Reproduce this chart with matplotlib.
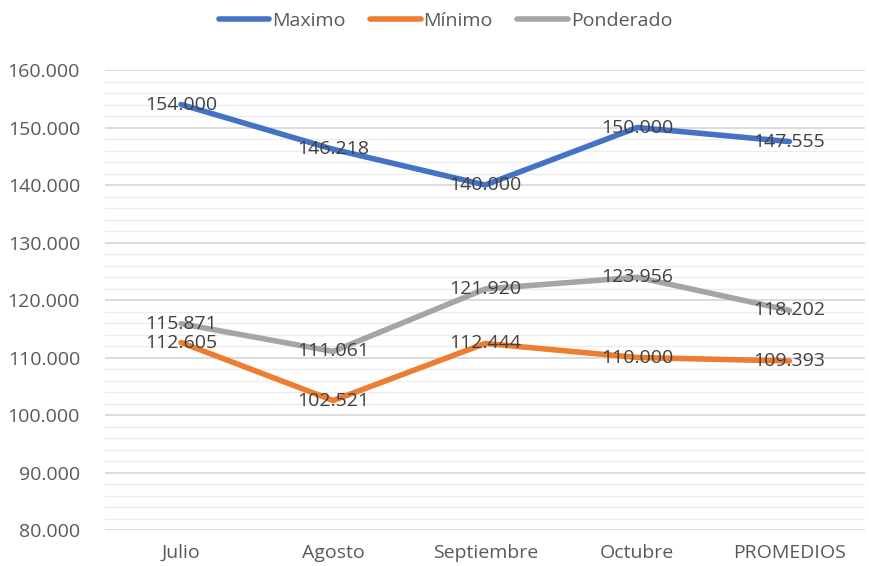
import matplotlib
matplotlib.use("Agg")
import matplotlib.pyplot as plt
from matplotlib.ticker import MultipleLocator, FuncFormatter

plt.rcParams["font.family"] = ["Open Sans", "DejaVu Sans"]

months = ["Julio", "Agosto", "Septiembre", "Octubre", "PROMEDIOS"]
maximo = [154000, 146218, 140000, 150000, 147555]
minimo = [112605, 102521, 112444, 110000, 109393]
ponderado = [115871, 111061, 121920, 123956, 118202]

SERIES = [("Maximo", maximo, "#4472C4"),
          ("Mínimo", minimo, "#ED7D31"),
          ("Ponderado", ponderado, "#A5A5A5")]

FS = 14.0


def fmt(v, _=None):
    return f"{v:,.0f}".replace(",", ".")


fig = plt.figure(figsize=(8.7, 5.66), dpi=100)
ax = fig.add_axes([0.1207, 0.0636, 0.874, 0.8127])

x = list(range(len(months)))
for name, vals, color in SERIES:
    ax.plot(x, vals, color=color, lw=4.0, solid_capstyle="round", label=name, zorder=3)
    for xi, v in zip(x, vals):
        ax.text(xi, v, fmt(v), ha="center", va="center", fontsize=FS,
                color="#404040", zorder=4)

ax.set_xlim(-0.5, len(months) - 0.5)
ax.set_ylim(80000, 160000)
ax.yaxis.set_major_locator(MultipleLocator(10000))
ax.yaxis.set_minor_locator(MultipleLocator(2000))
ax.yaxis.set_major_formatter(FuncFormatter(fmt))
ax.set_xticks(x)
ax.set_xticklabels(months)
ax.grid(True, which="major", axis="y", color="#D9D9D9", lw=1.3, zorder=0)
ax.grid(True, which="minor", axis="y", color="#EDEDED", lw=1.0, zorder=0)
for s in ax.spines.values():
    s.set_visible(False)
ax.tick_params(axis="both", which="both", length=0, labelsize=FS,
               labelcolor="#595959")
ax.tick_params(axis="y", pad=18)
ax.tick_params(axis="x", pad=10)

fig.legend(loc="upper center", bbox_to_anchor=(0.512, 1.01), ncol=3, frameon=False,
           fontsize=FS, handlelength=2.6, handletextpad=0.15, columnspacing=1.25,
           labelcolor="#595959")

fig.savefig("out.png", dpi=100)
